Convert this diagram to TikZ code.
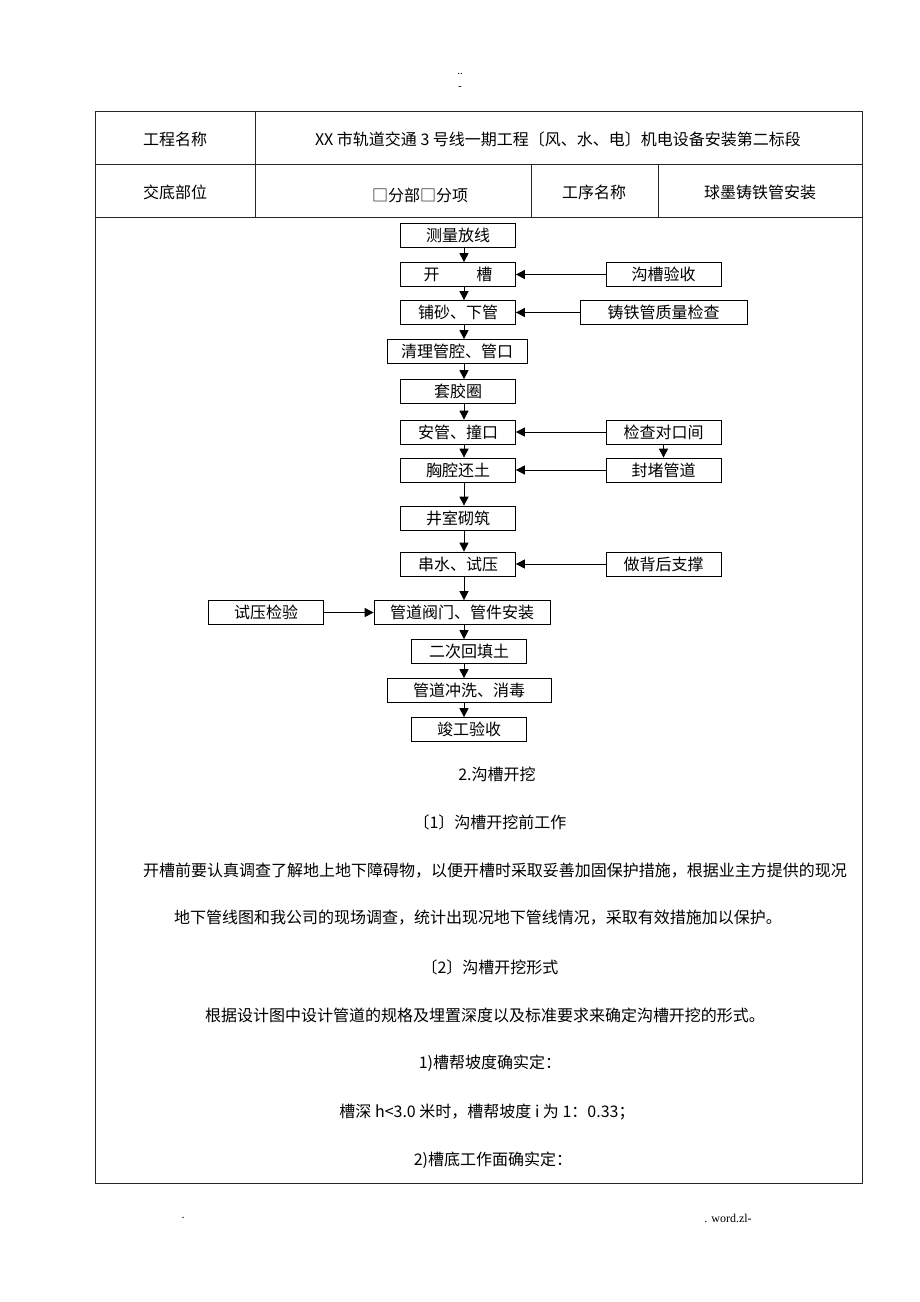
\documentclass[tikz,border=0pt]{standalone}
\usepackage{fontspec}
\setmainfont{Noto Sans CJK SC}
\newfontfamily\footfont{Liberation Serif}
\usetikzlibrary{arrows.meta,positioning}

\begin{document}
\begin{tikzpicture}[
  x=1pt, y=-1pt,
  font=\fontsize{16}{18}\selectfont,
  rule/.style={draw=black!85, line width=0.8pt},
  stepbox/.style={draw, line width=0.7pt, minimum width=115pt, minimum height=24pt, inner sep=0pt},
  link/.style={line width=0.7pt, -{Triangle[length=9pt,width=9pt]}},
  pagemark/.style={font=\footfont\fontsize{11}{11}\selectfont, inner sep=0pt},
]
\useasboundingbox (0,0) rectangle (920,1302);

% page marks
\node[pagemark] (dots) at (460,74) {..};
\node[pagemark] (dash) at (460,88) {-};

% header table
\draw[rule] (95,111) rectangle (862,1183);
\draw[rule] (95,164) -- (862,164);
\draw[rule] (95,217) -- (862,217);
\draw[rule] (255,111) -- (255,217);
\draw[rule] (531,164) -- (531,217);
\draw[rule] (658,164) -- (658,217);

\node (gcmc) at (175,139) {工程名称};
\node (gcname) at (558,139) {XX 市轨道交通 3 号线一期工程〔风、水、电〕机电设备安装第二标段};
\node (jdbw) at (175,192) {交底部位};
\node (fbfx) at (420,195) {□分部□分项};
\node (gxmc) at (594,192) {工序名称};
\node (gxname) at (760,192) {球墨铸铁管安装};

% flow chart, main column
\coordinate (spine) at (464,0);
\node[stepbox] (cl) at (458,235.5) {测量放线};
\node[stepbox] (kc) at (458,274.5) {开\hspace{2.3em}槽};
\node[stepbox] (pz) at (458,312.5) {铺砂、下管};
\node[stepbox, minimum width=140pt] (ql) at (457,351.5) {清理管腔、管口};
\node[stepbox] (tj) at (458,391.5) {套胶圈};
\node[stepbox] (ag) at (458,432) {安管、撞口};
\node[stepbox] (xq) at (458,470) {胸腔还土};
\node[stepbox] (js) at (458,518) {井室砌筑};
\node[stepbox] (cs) at (458,564) {串水、试压};
\node[stepbox, minimum width=176pt] (gd) at (462,612.5) {管道阀门、管件安装};
\node[stepbox] (ec) at (469,651.5) {二次回填土};
\node[stepbox, minimum width=164pt] (gc) at (469,690.5) {管道冲洗、消毒};
\node[stepbox] (jg) at (469,729.5) {竣工验收};

% side boxes
\node[stepbox] (gy) at (663.5,274.5) {沟槽验收};
\node[stepbox, minimum width=167pt] (zl) at (663.5,312.5) {铸铁管质量检查};
\node[stepbox] (jc) at (663.5,432) {检查对口间};
\node[stepbox] (fd) at (663.5,470) {封堵管道};
\node[stepbox] (zc) at (663.5,564) {做背后支撑};
\node[stepbox] (sy) at (266,612.5) {试压检验};

\draw[link] (cl.south -| spine) -- (kc.north -| spine);
\draw[link] (kc.south -| spine) -- (pz.north -| spine);
\draw[link] (pz.south -| spine) -- (ql.north -| spine);
\draw[link] (ql.south -| spine) -- (tj.north -| spine);
\draw[link] (tj.south -| spine) -- (ag.north -| spine);
\draw[link] (ag.south -| spine) -- (xq.north -| spine);
\draw[link] (xq.south -| spine) -- (js.north -| spine);
\draw[link] (js.south -| spine) -- (cs.north -| spine);
\draw[link] (cs.south -| spine) -- (gd.north -| spine);
\draw[link] (gd.south -| spine) -- (ec.north -| spine);
\draw[link] (ec.south -| spine) -- (gc.north -| spine);
\draw[link] (gc.south -| spine) -- (jg.north -| spine);

\draw[link] (gy.west) -- (kc.east);
\draw[link] (zl.west) -- (pz.east);
\draw[link] (jc.west) -- (ag.east);
\draw[link] (fd.west) -- (xq.east);
\draw[link] (jc.south) -- (fd.north);
\draw[link] (zc.west) -- (cs.east);
\draw[link] (sy.east) -- (gd.west);

% text below the chart
\node (h2) at (497,774) {2.沟槽开挖};
\node (h21) at (490,822) {〔1〕沟槽开挖前工作};
\node (p1) at (495,871) {开槽前要认真调查了解地上地下障碍物，以便开槽时采取妥善加固保护措施，根据业主方提供的现况};
\node (p2) at (478,918) {地下管线图和我公司的现场调查，统计出现况地下管线情况，采取有效措施加以保护。};
\node (h22) at (490,967) {〔2〕沟槽开挖形式};
\node (p3) at (485,1015) {根据设计图中设计管道的规格及埋置深度以及标准要求来确定沟槽开挖的形式。};
\node (s1) at (490,1063) {1)槽帮坡度确实定：};
\node (s1a) at (487,1112) {槽深 h<3.0 米时，槽帮坡度 i 为 1：0.33；};
\node (s2) at (493,1160) {2)槽底工作面确实定：};

% footer
\node[pagemark, font=\footfont\fontsize{12}{12}\selectfont] (fl) at (183,1218) {.};
\node[pagemark, font=\footfont\fontsize{12}{12}\selectfont] (fr) at (728,1218) {. word.zl-};
\end{tikzpicture}
\end{document}
